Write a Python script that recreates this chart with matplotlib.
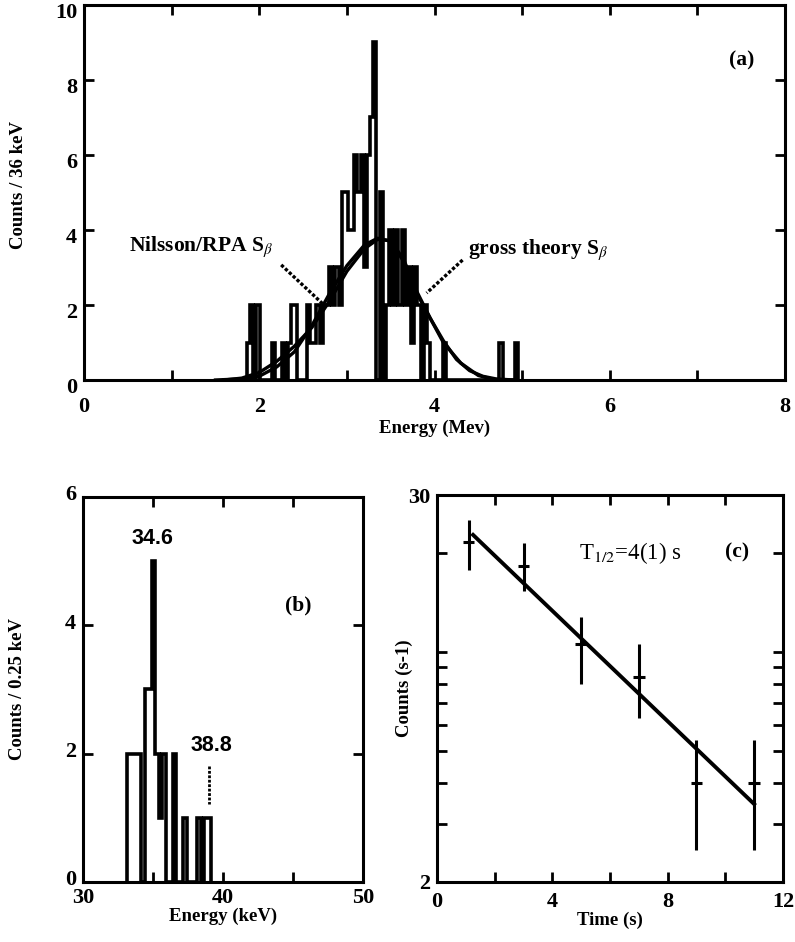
import numpy as np
import matplotlib
matplotlib.use("Agg")
import matplotlib.pyplot as plt
from matplotlib.ticker import MultipleLocator, FixedLocator, FixedFormatter, NullFormatter
from matplotlib.transforms import ScaledTranslation

plt.rcParams["font.family"] = ["Liberation Serif", "DejaVu Serif"]
plt.rcParams["mathtext.fontset"] = "stix"

# ---- panel (a): beta spectrum, 36 keV bins ----
a_bin_start = 1.86   # MeV
a_bin_width = 0.036  # MeV
a_counts = [1, 2, 0, 2, 0, 0, 0, 0, 1, 0,
            0, 1, 0, 1, 2, 2, 0, 0, 0, 2,
            1, 1, 2, 1, 2, 2, 3, 2, 3, 2,
            5, 5, 4, 4, 6, 5, 6, 3, 6, 7,
            9, 0, 5, 0, 2, 4, 2, 4, 2, 4,
            2, 3, 1, 3, 2, 0, 2, 1, 0, 0,
            0, 0, 1, 0, 0, 0, 0, 0, 0, 0,
            0, 0, 0, 0, 0, 0, 0, 0, 0, 0,
            1, 0, 0, 0, 0, 1]

gross_E = [1.5, 1.8, 2.0, 2.2, 2.4, 2.6, 2.8, 3.0, 3.2, 3.35, 3.5, 3.65,
           3.8, 3.95, 4.1, 4.25, 4.4, 4.55, 4.7, 4.9]
gross_S = [0.0, 0.03, 0.1, 0.35, 0.75, 1.45, 2.3, 3.05, 3.6, 3.78, 3.7, 3.15,
           2.3, 1.65, 1.05, 0.55, 0.25, 0.1, 0.03, 0.0]
nils_E = [1.6, 1.8, 2.0, 2.2, 2.4, 2.6, 2.8, 3.0, 3.2, 3.35, 3.5, 3.65,
          3.8, 3.95, 4.1, 4.3, 4.5, 4.7]
nils_S = [0.0, 0.05, 0.2, 0.5, 0.9, 1.4, 2.1, 2.9, 3.5, 3.75, 3.72, 3.2,
          2.35, 1.65, 1.0, 0.45, 0.12, 0.0]

# ---- panel (b): X-ray spectrum, 0.25 keV bins ----
b_bin_start = 33.15  # keV
b_bin_width = 0.25
b_counts = [2, 2, 2, 2, 0, 3, 3, 5, 2, 1,
            2, 0, 0, 2, 0, 0, 1, 0, 0, 0,
            1, 0, 1, 1]

# ---- panel (c): decay curve ----
time_s = [1.1, 3.0, 5.0, 7.0, 9.0, 11.0]
rate = [21.6, 18.3, 10.6, 8.4, 4.0, 4.0]
rate_lo = [17.8, 15.3, 8.0, 6.3, 2.5, 2.5]
rate_hi = [25.2, 21.4, 12.8, 10.6, 5.4, 5.4]
fit_t = [1.25, 11.0]
fit_rate = [22.7, 3.45]

TICK_FS = 16
LAB_FS = 13.5
ANN_FS = 15.5
HIST_LW = 2.6


def style_axes(ax, xpad=4):
    for sp in ax.spines.values():
        sp.set_linewidth(2.2)
    ax.tick_params(which="both", direction="in", top=True, right=True,
                   width=2.0, length=7, labelsize=TICK_FS)
    ax.tick_params(axis="y", pad=5)
    ax.tick_params(axis="x", pad=xpad)
    for lbl in ax.get_xticklabels() + ax.get_yticklabels():
        lbl.set_fontweight("bold")


def shift_yticklabels(ax, dy_pt):
    for lbl in ax.get_yticklabels():
        lbl.set_transform(lbl.get_transform() +
                          ScaledTranslation(0, dy_pt / 72, fig.dpi_scale_trans))


fig = plt.figure(figsize=(7.95, 9.42), dpi=100)

# ================= (a) =================
ax_a = fig.add_axes([0.1057, 0.5966, 0.8818, 0.3981])
edges_a = a_bin_start + a_bin_width * np.arange(len(a_counts) + 1)
ax_a.stairs(a_counts, edges_a, baseline=0, color="black", lw=HIST_LW)
ax_a.plot(gross_E, gross_S, color="black", lw=2.4)
ax_a.plot(nils_E, nils_S, color="black", lw=2.4)
ax_a.set_xlim(0, 8)
ax_a.set_ylim(0, 10)
ax_a.xaxis.set_major_locator(MultipleLocator(2))
ax_a.xaxis.set_minor_locator(MultipleLocator(1))
ax_a.yaxis.set_major_locator(MultipleLocator(2))
style_axes(ax_a, xpad=12)
ax_a.set_xlabel("Energy (Mev)", fontsize=LAB_FS, fontweight="bold", labelpad=2)
ax_a.set_ylabel("Counts / 36 keV", fontsize=LAB_FS, fontweight="bold")
ax_a.yaxis.set_label_coords(-0.081, 0.52)

ax_a.text(0.51, 3.55, r"Nilsson/RPA S$_{\beta}$", fontsize=ANN_FS,
          fontweight="bold", ha="left", va="center")
ax_a.plot([2.25, 2.72], [3.07, 2.04], color="black", lw=2.4, ls=(0, (1, 0.6)))
ax_a.text(4.38, 3.47, r"gross theory S$_{\beta}$", fontsize=ANN_FS,
          fontweight="bold", ha="left", va="center")
ax_a.plot([4.32, 3.91], [3.2, 2.32], color="black", lw=2.4, ls=(0, (1, 0.6)))
ax_a.text(7.51, 8.53, "(a)", fontsize=ANN_FS, fontweight="bold",
          ha="center", va="center")

# ================= (b) =================
ax_b = fig.add_axes([0.1044, 0.0637, 0.3522, 0.4087])
edges_b = b_bin_start + b_bin_width * np.arange(len(b_counts) + 1)
ax_b.stairs(b_counts, edges_b, baseline=0, color="black", lw=HIST_LW)
ax_b.set_xlim(30, 50)
ax_b.set_ylim(0, 6)
ax_b.xaxis.set_major_locator(MultipleLocator(10))
ax_b.xaxis.set_minor_locator(MultipleLocator(5))
ax_b.yaxis.set_major_locator(MultipleLocator(2))
style_axes(ax_b, xpad=4)
ax_b.set_xlabel("Energy (keV)", fontsize=LAB_FS, fontweight="bold", labelpad=0)
ax_b.set_ylabel("Counts / 0.25 keV", fontsize=LAB_FS, fontweight="bold")
ax_b.yaxis.set_label_coords(-0.204, 0.5)
ax_b.text(34.93, 5.36, "34.6", fontsize=ANN_FS, fontweight="bold",
          family=["Liberation Sans"], ha="center", va="center")
ax_b.text(39.15, 2.12, "38.8", fontsize=ANN_FS, fontweight="bold",
          family=["Liberation Sans"], ha="center", va="center")
ax_b.plot([39.0, 39.0], [1.81, 1.22], color="black", lw=2.0, ls=(0, (1, 0.6)))
ax_b.text(45.4, 4.31, "(b)", fontsize=ANN_FS, fontweight="bold",
          ha="center", va="center")

# ================= (c) =================
ax_c = fig.add_axes([0.5497, 0.0637, 0.4352, 0.4108])
ax_c.set_yscale("log")
yerr = [np.array(rate) - np.array(rate_lo), np.array(rate_hi) - np.array(rate)]
ax_c.errorbar(time_s, rate, yerr=yerr, xerr=0.2, fmt="none", ecolor="black",
              elinewidth=2.2, capsize=0)
ax_c.plot(fit_t, fit_rate, color="black", lw=2.8)
ax_c.set_xlim(0, 12)
ax_c.set_ylim(2, 30)
ax_c.xaxis.set_major_locator(MultipleLocator(4))
ax_c.xaxis.set_minor_locator(MultipleLocator(2))
ax_c.yaxis.set_major_locator(FixedLocator([2, 30]))
ax_c.yaxis.set_minor_locator(FixedLocator([3, 4, 5, 6, 7, 8, 9, 10, 20]))
ax_c.yaxis.set_major_formatter(FixedFormatter(["2", "30"]))
ax_c.yaxis.set_minor_formatter(NullFormatter())
style_axes(ax_c, xpad=7)
ax_c.set_xlabel("Time (s)", fontsize=LAB_FS, fontweight="bold", labelpad=0)
ax_c.set_ylabel("Counts (s-1)", fontsize=LAB_FS, fontweight="bold")
ax_c.yaxis.set_label_coords(-0.069, 0.5)
ax_c.text(6.69, 20, r"T$_{1/2}$=4(1) s", fontsize=ANN_FS + 1, ha="center", va="center")
ax_c.text(10.4, 20, "(c)", fontsize=ANN_FS, fontweight="bold",
          ha="center", va="center")

fig.canvas.draw()
shift_yticklabels(ax_a, -4)
shift_yticklabels(ax_b, 3)

fig.savefig("out.png", dpi=100)
